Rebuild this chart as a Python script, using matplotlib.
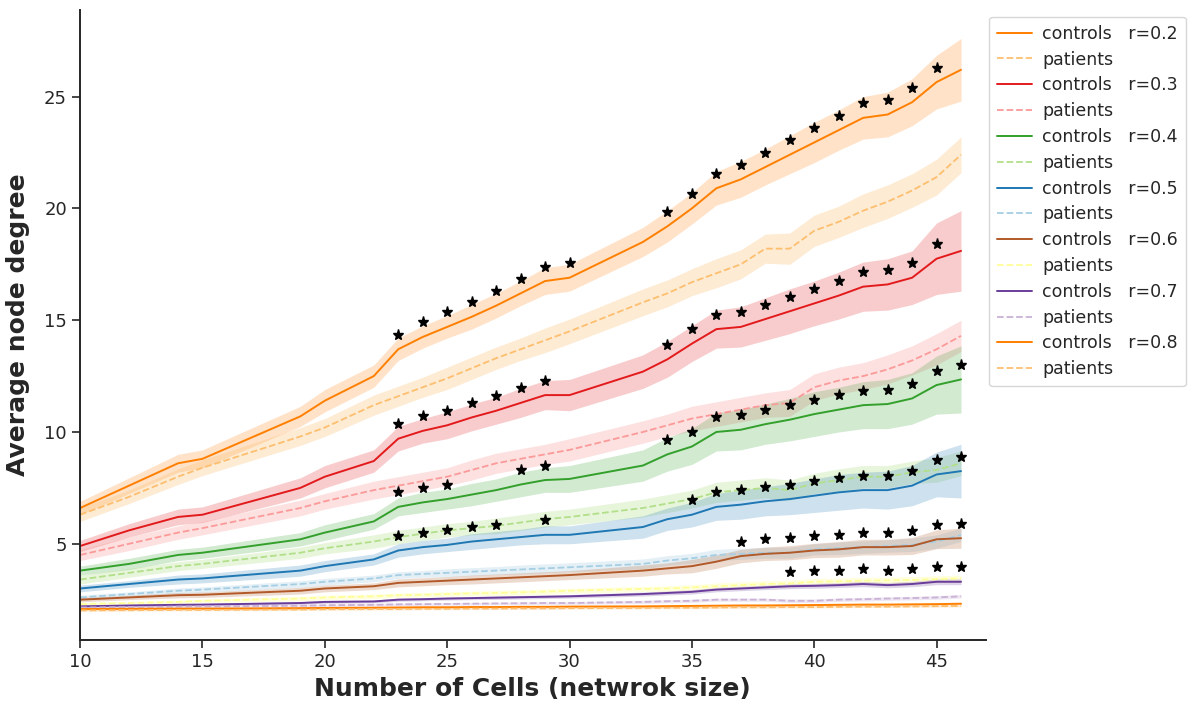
import numpy as np
import matplotlib
matplotlib.use("Agg")
import matplotlib.pyplot as plt
import seaborn as sns

# network sizes (number of cells)
sizes = [10, 12, 14, 15, 19, 20, 22, 23, 24, 25, 26, 27, 28, 29, 30,
         33, 34, 35, 36, 37, 38, 39, 40, 41, 42, 43, 44, 45, 46]

thresholds = [0.2, 0.3, 0.4, 0.5, 0.6, 0.7, 0.8]

# mean degree and half-width of the shaded band, per threshold
ctrl_02 = [6.6, 7.6, 8.6, 8.8, 10.7, 11.4, 12.5, 13.7, 14.25, 14.7, 15.15, 15.65, 16.2, 16.75, 16.9,
           18.5, 19.2, 20.0, 20.9, 21.3, 21.85, 22.4, 22.95, 23.5, 24.05, 24.2, 24.75, 25.65, 26.2]
ctrl_02_err = [0.3, 0.35, 0.4, 0.4, 0.45, 0.5, 0.5, 0.5, 0.5, 0.5, 0.55, 0.55, 0.55, 0.6, 0.6,
               0.65, 0.7, 0.7, 0.75, 0.8, 0.8, 0.85, 0.9, 0.9, 0.95, 1.0, 1.05, 1.2, 1.4]
pat_02 = [6.3, 7.1, 8.0, 8.4, 9.8, 10.2, 11.2, 11.6, 12.0, 12.4, 12.85, 13.3, 13.7, 14.1, 14.5,
          15.8, 16.2, 16.7, 17.1, 17.5, 18.2, 18.2, 19.0, 19.4, 19.9, 20.3, 20.8, 21.4, 22.4]
pat_02_err = [0.3, 0.3, 0.35, 0.35, 0.4, 0.4, 0.45, 0.45, 0.45, 0.5, 0.5, 0.5, 0.5, 0.55, 0.55,
              0.6, 0.6, 0.6, 0.65, 0.65, 0.65, 0.7, 0.7, 0.7, 0.75, 0.75, 0.75, 0.8, 0.8]

ctrl_03 = [4.9, 5.6, 6.2, 6.3, 7.5, 8.0, 8.7, 9.7, 10.05, 10.3, 10.65, 10.95, 11.3, 11.65, 11.65,
           12.7, 13.25, 13.95, 14.6, 14.7, 15.05, 15.4, 15.75, 16.1, 16.5, 16.6, 16.9, 17.75, 18.1]
ctrl_03_err = [0.25, 0.3, 0.35, 0.35, 0.45, 0.5, 0.5, 0.55, 0.55, 0.6, 0.6, 0.6, 0.65, 0.65, 0.7,
               0.75, 0.8, 0.8, 0.85, 0.9, 0.95, 1.0, 1.0, 1.05, 1.1, 1.15, 1.2, 1.6, 1.8]
pat_03 = [4.5, 5.0, 5.5, 5.7, 6.6, 6.9, 7.4, 7.6, 7.8, 8.0, 8.3, 8.6, 8.8, 9.0, 9.2,
          10.0, 10.3, 10.6, 10.8, 11.0, 11.2, 11.3, 12.0, 12.3, 12.5, 12.8, 13.2, 13.7, 14.3]
pat_03_err = [0.25, 0.3, 0.3, 0.3, 0.35, 0.35, 0.4, 0.4, 0.4, 0.4, 0.45, 0.45, 0.45, 0.45, 0.5,
              0.5, 0.5, 0.55, 0.55, 0.55, 0.55, 0.6, 0.6, 0.6, 0.6, 0.65, 0.65, 0.7, 0.7]

ctrl_04 = [3.8, 4.1, 4.5, 4.6, 5.2, 5.5, 6.0, 6.65, 6.85, 7.0, 7.2, 7.4, 7.65, 7.85, 7.9,
           8.5, 9.0, 9.35, 10.0, 10.1, 10.35, 10.55, 10.8, 11.0, 11.2, 11.25, 11.5, 12.1, 12.35]
ctrl_04_err = [0.2, 0.25, 0.25, 0.25, 0.3, 0.35, 0.35, 0.4, 0.45, 0.45, 0.5, 0.5, 0.55, 0.55, 0.6,
               0.7, 0.75, 0.8, 0.85, 0.9, 0.9, 0.95, 1.0, 1.0, 1.05, 1.1, 1.15, 1.3, 1.5]
pat_04 = [3.4, 3.7, 4.0, 4.1, 4.6, 4.8, 5.1, 5.3, 5.45, 5.6, 5.7, 5.8, 5.95, 6.1, 6.2,
          6.6, 6.8, 7.0, 7.3, 7.4, 7.5, 7.4, 7.7, 7.85, 8.0, 8.0, 8.2, 8.3, 8.6]
pat_04_err = [0.2, 0.2, 0.2, 0.2, 0.25, 0.25, 0.3, 0.3, 0.3, 0.3, 0.3, 0.35, 0.35, 0.35, 0.35,
              0.4, 0.4, 0.4, 0.45, 0.45, 0.45, 0.45, 0.45, 0.5, 0.5, 0.5, 0.5, 0.55, 0.55]

ctrl_05 = [3.0, 3.2, 3.4, 3.45, 3.8, 4.0, 4.3, 4.7, 4.85, 4.95, 5.1, 5.2, 5.3, 5.4, 5.4,
           5.75, 6.1, 6.3, 6.65, 6.75, 6.9, 7.0, 7.15, 7.3, 7.4, 7.4, 7.6, 8.1, 8.25]
ctrl_05_err = [0.15, 0.15, 0.2, 0.2, 0.25, 0.25, 0.25, 0.3, 0.3, 0.3, 0.35, 0.35, 0.35, 0.4, 0.4,
               0.5, 0.5, 0.55, 0.6, 0.65, 0.65, 0.7, 0.75, 0.8, 0.8, 0.85, 0.9, 1.0, 1.2]
pat_05 = [2.6, 2.75, 2.9, 2.95, 3.2, 3.3, 3.45, 3.6, 3.65, 3.7, 3.75, 3.8, 3.85, 3.9, 3.95,
          4.1, 4.25, 4.35, 4.5, 4.55, 4.6, 4.6, 4.75, 4.8, 4.85, 4.9, 4.95, 5.1, 5.4]
pat_05_err = [0.1, 0.1, 0.12, 0.12, 0.15, 0.15, 0.15, 0.15, 0.15, 0.18, 0.18, 0.18, 0.2, 0.2, 0.2,
              0.22, 0.22, 0.22, 0.25, 0.25, 0.25, 0.25, 0.25, 0.28, 0.28, 0.28, 0.3, 0.3, 0.3]

ctrl_06 = [2.5, 2.6, 2.7, 2.72, 2.9, 3.0, 3.1, 3.25, 3.3, 3.35, 3.4, 3.45, 3.5, 3.55, 3.6,
           3.8, 3.9, 4.0, 4.2, 4.45, 4.55, 4.6, 4.7, 4.75, 4.85, 4.85, 4.9, 5.2, 5.25]
ctrl_06_err = [0.1, 0.1, 0.12, 0.12, 0.15, 0.15, 0.15, 0.18, 0.18, 0.18, 0.2, 0.2, 0.2, 0.2, 0.2,
               0.25, 0.25, 0.3, 0.3, 0.3, 0.3, 0.32, 0.32, 0.35, 0.35, 0.35, 0.38, 0.42, 0.45]
pat_06 = [2.3, 2.35, 2.4, 2.45, 2.55, 2.6, 2.65, 2.7, 2.72, 2.75, 2.78, 2.8, 2.83, 2.86, 2.9,
          2.98, 3.0, 3.05, 3.1, 3.15, 3.2, 3.22, 3.3, 3.32, 3.35, 3.36, 3.38, 3.42, 3.45]
pat_06_err = [0.08, 0.08, 0.08, 0.08, 0.1, 0.1, 0.1, 0.1, 0.1, 0.1, 0.1, 0.12, 0.12, 0.12, 0.12,
              0.12, 0.12, 0.12, 0.15, 0.15, 0.15, 0.15, 0.15, 0.15, 0.15, 0.15, 0.15, 0.15, 0.15]

ctrl_07 = [2.2, 2.24, 2.27, 2.28, 2.35, 2.4, 2.42, 2.5, 2.52, 2.55, 2.57, 2.59, 2.61, 2.63, 2.65,
           2.75, 2.8, 2.85, 2.95, 3.0, 3.05, 3.1, 3.12, 3.15, 3.2, 3.15, 3.2, 3.3, 3.3]
ctrl_07_err = [0.05, 0.05, 0.05, 0.05, 0.06, 0.06, 0.06, 0.07, 0.07, 0.07, 0.07, 0.08, 0.08, 0.08, 0.08,
               0.09, 0.09, 0.1, 0.1, 0.1, 0.1, 0.11, 0.11, 0.11, 0.12, 0.12, 0.12, 0.13, 0.13]
pat_07 = [2.15, 2.17, 2.19, 2.2, 2.23, 2.25, 2.27, 2.29, 2.3, 2.31, 2.32, 2.33, 2.34, 2.35, 2.35,
          2.4, 2.43, 2.45, 2.5, 2.5, 2.5, 2.45, 2.45, 2.5, 2.52, 2.55, 2.57, 2.6, 2.65]
pat_07_err = [0.05, 0.05, 0.05, 0.05, 0.05, 0.05, 0.05, 0.06, 0.06, 0.06, 0.06, 0.06, 0.06, 0.06, 0.06,
              0.07, 0.07, 0.07, 0.07, 0.07, 0.07, 0.08, 0.08, 0.08, 0.08, 0.08, 0.08, 0.08, 0.08]

ctrl_08 = [2.08, 2.09, 2.1, 2.1, 2.12, 2.13, 2.14, 2.15, 2.16, 2.16, 2.17, 2.17, 2.18, 2.18, 2.19,
           2.2, 2.21, 2.22, 2.23, 2.24, 2.24, 2.25, 2.26, 2.27, 2.28, 2.28, 2.29, 2.3, 2.32]
ctrl_08_err = [0.04, 0.04, 0.04, 0.04, 0.04, 0.04, 0.04, 0.04, 0.04, 0.04, 0.04, 0.04, 0.04, 0.04, 0.04,
               0.05, 0.05, 0.05, 0.05, 0.05, 0.05, 0.05, 0.05, 0.05, 0.05, 0.05, 0.05, 0.05, 0.05]
pat_08 = [2.02, 2.03, 2.04, 2.04, 2.06, 2.07, 2.08, 2.08, 2.09, 2.09, 2.1, 2.1, 2.11, 2.11, 2.12,
          2.13, 2.14, 2.14, 2.15, 2.16, 2.16, 2.17, 2.17, 2.18, 2.19, 2.19, 2.2, 2.21, 2.22]
pat_08_err = [0.04, 0.04, 0.04, 0.04, 0.04, 0.04, 0.04, 0.04, 0.04, 0.04, 0.04, 0.04, 0.04, 0.04, 0.04,
              0.04, 0.04, 0.04, 0.04, 0.04, 0.04, 0.04, 0.04, 0.04, 0.04, 0.04, 0.04, 0.04, 0.04]

# sizes where controls and patients differ significantly
sig_02 = [23, 24, 25, 26, 27, 28, 29, 30, 34, 35, 36, 37, 38, 39, 40, 41, 42, 43, 44, 45]
sig_03 = [23, 24, 25, 26, 27, 28, 29, 34, 35, 36, 37, 38, 39, 40, 41, 42, 43, 44, 45]
sig_04 = [23, 24, 25, 28, 29, 34, 35, 36, 37, 38, 39, 40, 41, 42, 43, 44, 45, 46]
sig_05 = [23, 24, 25, 26, 27, 29, 35, 36, 37, 38, 39, 40, 41, 42, 43, 44, 45, 46]
sig_06 = [37, 38, 39, 40, 41, 42, 43, 44, 45, 46]
sig_07 = [39, 40, 41, 42, 43, 44, 45, 46]
sig_08 = []

controls = [ctrl_02, ctrl_03, ctrl_04, ctrl_05, ctrl_06, ctrl_07, ctrl_08]
controls_err = [ctrl_02_err, ctrl_03_err, ctrl_04_err, ctrl_05_err, ctrl_06_err, ctrl_07_err, ctrl_08_err]
patients = [pat_02, pat_03, pat_04, pat_05, pat_06, pat_07, pat_08]
patients_err = [pat_02_err, pat_03_err, pat_04_err, pat_05_err, pat_06_err, pat_07_err, pat_08_err]
significant = [sig_02, sig_03, sig_04, sig_05, sig_06, sig_07, sig_08]

# Paired palette: (dark, light) per threshold
pal = sns.color_palette("Paired", 12)
pairs = [(pal[7], pal[6]), (pal[5], pal[4]), (pal[3], pal[2]), (pal[1], pal[0]),
         (pal[11], pal[10]), (pal[9], pal[8]), (pal[7], pal[6])]

sns.set_style("ticks")
plt.rcParams['font.family'] = ['DejaVu Sans']

fig = plt.figure(figsize=(11.96, 7.04), dpi=100)
ax = fig.add_axes([0.067, 0.091, 0.757, 0.895])

x = np.array(sizes)
star_offset = 0.65
for r, c_mean, c_err, p_mean, p_err, sig, (dark, light) in zip(
        thresholds, controls, controls_err, patients, patients_err, significant, pairs):
    c_mean = np.array(c_mean)
    c_err = np.array(c_err)
    p_mean = np.array(p_mean)
    p_err = np.array(p_err)
    ax.plot(x, c_mean, color=dark, lw=1.4, label=f"controls   r={r}")
    ax.fill_between(x, c_mean - c_err, c_mean + c_err, color=dark, alpha=0.22, lw=0)
    ax.plot(x, p_mean, color=light, lw=1.3, ls="--", label="patients")
    ax.fill_between(x, p_mean - p_err, p_mean + p_err, color=light, alpha=0.3, lw=0)
    if sig:
        idx = [sizes.index(s) for s in sig]
        ax.plot(x[idx], c_mean[idx] + star_offset, ls="none", marker="*",
                color="black", ms=8)

ax.set_xlim(10, 47)
ax.set_xticks([10, 15, 20, 25, 30, 35, 40, 45])
ax.set_yticks([5, 10, 15, 20, 25])
ax.tick_params(labelsize=13, length=6, width=1.2)
for side in ("left", "bottom"):
    ax.spines[side].set_linewidth(1.4)
sns.despine(ax=ax)

ax.set_xlabel("Number of Cells (netwrok size)", fontsize=18, fontweight="bold", labelpad=4)
ax.set_ylabel("Average node degree", fontsize=18, fontweight="bold", labelpad=10)

ax.legend(loc="upper left", bbox_to_anchor=(0.827, 0.976), bbox_transform=fig.transFigure,
          fontsize=12.5, frameon=True, labelspacing=0.45, handlelength=2.0,
          borderpad=0.45, handletextpad=0.6, borderaxespad=0.0)

fig.savefig("out.png", dpi=100)
